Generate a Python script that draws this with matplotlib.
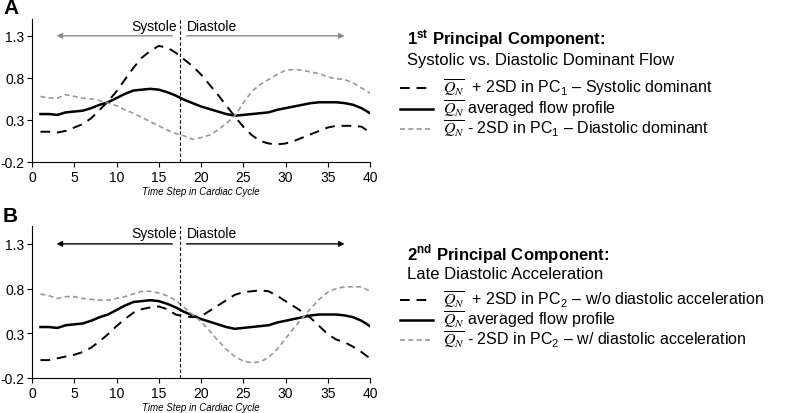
import matplotlib.pyplot as plt
from matplotlib.lines import Line2D
import numpy as np

plt.rcParams['font.family'] = ['Liberation Sans', 'DejaVu Sans']
plt.rcParams['mathtext.fontset'] = 'stix'

# ================= data =================
steps = np.arange(1, 41)

mean_flow = [0.37, 0.37, 0.36, 0.39, 0.40, 0.41, 0.44, 0.48, 0.51, 0.56,
             0.61, 0.65, 0.66, 0.67, 0.66, 0.63, 0.59, 0.54, 0.50, 0.46,
             0.43, 0.40, 0.37, 0.35, 0.36, 0.37, 0.38, 0.39, 0.42, 0.44,
             0.46, 0.48, 0.50, 0.51, 0.51, 0.51, 0.50, 0.48, 0.44, 0.38]

pc1_plus = [0.16, 0.16, 0.15, 0.17, 0.21, 0.25, 0.32, 0.42, 0.52, 0.64,
            0.78, 0.92, 1.04, 1.12, 1.18, 1.16, 1.10, 1.02, 0.94, 0.84,
            0.72, 0.60, 0.47, 0.34, 0.22, 0.12, 0.05, 0.02, 0.01, 0.02,
            0.05, 0.09, 0.13, 0.17, 0.21, 0.23, 0.23, 0.23, 0.22, 0.15]

pc1_minus = [0.58, 0.56, 0.56, 0.60, 0.58, 0.56, 0.55, 0.53, 0.50, 0.47,
             0.42, 0.38, 0.33, 0.28, 0.23, 0.18, 0.14, 0.11, 0.07, 0.09,
             0.12, 0.18, 0.26, 0.35, 0.50, 0.64, 0.72, 0.78, 0.84, 0.89,
             0.90, 0.89, 0.87, 0.85, 0.81, 0.79, 0.78, 0.74, 0.68, 0.62]

pc2_plus = [0.00, 0.00, 0.02, 0.04, 0.06, 0.09, 0.14, 0.21, 0.29, 0.38,
            0.46, 0.53, 0.57, 0.59, 0.60, 0.57, 0.51, 0.49, 0.48, 0.49,
            0.55, 0.61, 0.67, 0.73, 0.76, 0.77, 0.78, 0.77, 0.72, 0.66,
            0.60, 0.54, 0.47, 0.38, 0.29, 0.23, 0.20, 0.15, 0.09, 0.02]

pc2_minus = [0.74, 0.72, 0.69, 0.71, 0.71, 0.69, 0.68, 0.67, 0.67, 0.69,
             0.71, 0.74, 0.77, 0.77, 0.75, 0.72, 0.67, 0.59, 0.51, 0.43,
             0.33, 0.22, 0.12, 0.04, -0.01, -0.03, -0.02, 0.03, 0.12, 0.24,
             0.36, 0.47, 0.58, 0.68, 0.76, 0.80, 0.82, 0.82, 0.82, 0.77]

x_ticks = [0, 5, 10, 15, 20, 25, 30, 35, 40]
y_ticks = [-0.2, 0.3, 0.8, 1.3]

W, H = 800, 414


def fx(px):
    return px / W


def fy(py):
    return 1 - py / H


fig = plt.figure(figsize=(8, 4.14), dpi=100)

# panel boxes in pixels: left, right, top, bottom
boxes = [(32, 370, 20, 163), (32, 370, 227, 379)]
plus_data = [pc1_plus, pc2_plus]
minus_data = [pc1_minus, pc2_minus]
arrow_colors = ['#8a8a8a', 'black']

for i, (l, r, t, b) in enumerate(boxes):
    ax = fig.add_axes([fx(l), fy(b), fx(r - l), (b - t) / H])
    ax.plot(steps, plus_data[i], color='black', lw=1.4, dashes=(5, 3.5))
    ax.plot(steps, mean_flow, color='black', lw=1.8)
    ax.plot(steps, minus_data[i], color='#999999', lw=1.2, dashes=(3, 2))

    ax.axvline(17.5, color='black', lw=0.8, ls=(0, (3, 2)))

    ax.annotate('', xy=(2.9, 1.3), xytext=(16.6, 1.3),
                arrowprops=dict(arrowstyle='-|>', color=arrow_colors[i], lw=1.0,
                                mutation_scale=8, shrinkA=0, shrinkB=0))
    ax.annotate('', xy=(37.0, 1.3), xytext=(18.3, 1.3),
                arrowprops=dict(arrowstyle='-|>', color=arrow_colors[i], lw=1.0,
                                mutation_scale=8, shrinkA=0, shrinkB=0))
    ax.text(17.1, 1.42, 'Systole', ha='right', va='center', fontsize=10)
    ax.text(18.3, 1.42, 'Diastole', ha='left', va='center', fontsize=10)

    ax.set_xlim(0, 40)
    ax.set_ylim(-0.2, 1.5)
    ax.set_xticks(x_ticks)
    ax.set_yticks(y_ticks)
    ax.set_yticklabels(['-0.2', '0.3', '0.8', '1.3'])
    ax.tick_params(labelsize=10, length=3.5, width=0.8, pad=2)
    ax.spines['top'].set_visible(False)
    ax.spines['right'].set_visible(False)
    ax.set_xlabel('Time Step in Cardiac Cycle', fontsize=7, style='italic', labelpad=2)

fig.text(fx(3), fy(9), 'A', fontsize=15, fontweight='bold', va='center')
fig.text(fx(3), fy(217), 'B', fontsize=15, fontweight='bold', va='center')

# ================= legend texts =================
legends = [
    dict(title=r'1$^{\mathregular{st}}$ Principal Component:',
         sub='Systolic vs. Diastolic Dominant Flow',
         rows=[r'$\overline{Q_N}$  + 2SD in PC$_{\mathregular{1}}$ – Systolic dominant',
               r'$\overline{Q_N}$ averaged flow profile',
               r'$\overline{Q_N}$ - 2SD in PC$_{\mathregular{1}}$ – Diastolic dominant'],
         ty=40, sy=60, ry=[88, 109, 129]),
    dict(title=r'2$^{\mathregular{nd}}$ Principal Component:',
         sub='Late Diastolic Acceleration',
         rows=[r'$\overline{Q_N}$  + 2SD in PC$_{\mathregular{2}}$ – w/o diastolic acceleration',
               r'$\overline{Q_N}$ averaged flow profile',
               r'$\overline{Q_N}$ - 2SD in PC$_{\mathregular{2}}$ – w/ diastolic acceleration'],
         ty=255, sy=275, ry=[300, 320, 340]),
]
sample_styles = [dict(color='black', lw=1.4, dashes=(5, 3.5)),
                 dict(color='black', lw=1.8),
                 dict(color='#999999', lw=1.2, dashes=(3, 2))]

for lg in legends:
    fig.text(fx(407), fy(lg['ty']), lg['title'], fontsize=12, fontweight='bold', va='center')
    fig.text(fx(407), fy(lg['sy']), lg['sub'], fontsize=12, va='center')
    for y, txt, st in zip(lg['ry'], lg['rows'], sample_styles):
        fig.add_artist(Line2D([fx(400), fx(433)], [fy(y + 1), fy(y + 1)],
                              transform=fig.transFigure, **st))
        fig.text(fx(443), fy(y), txt, fontsize=11.5, va='center')

fig.savefig('out.png', dpi=100)
